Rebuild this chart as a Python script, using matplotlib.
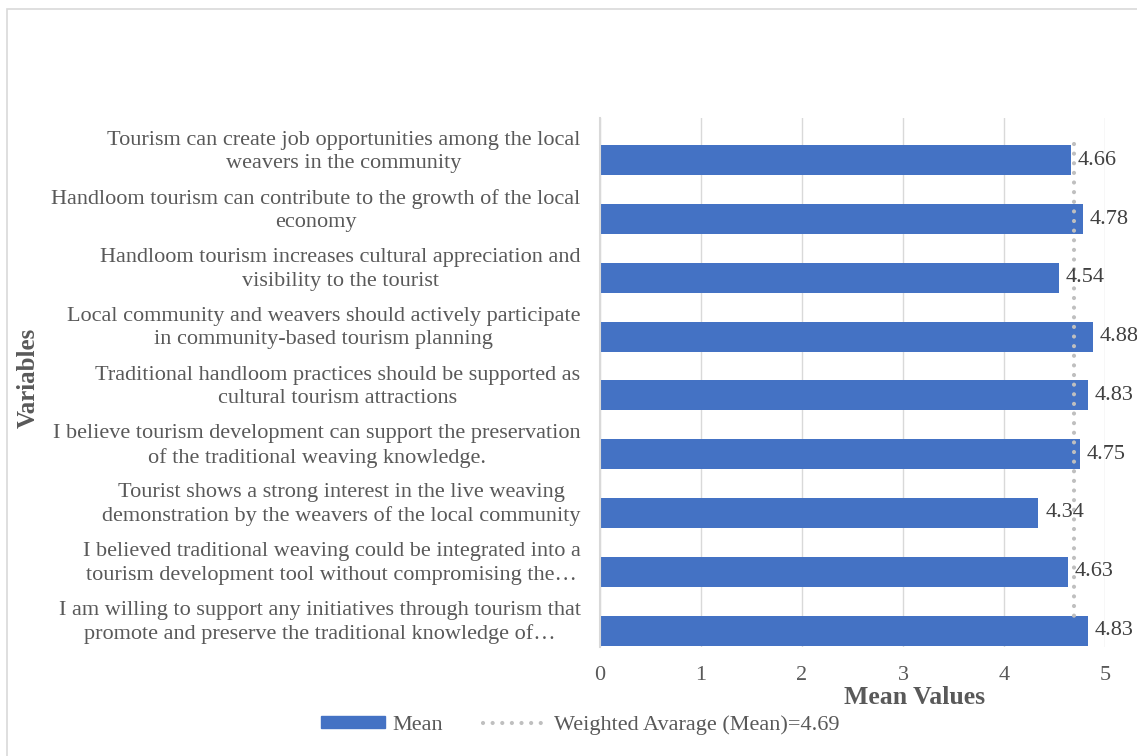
import matplotlib.pyplot as plt
from matplotlib.patches import Rectangle
from matplotlib.lines import Line2D

plt.rcParams["font.family"] = ["Liberation Serif", "DejaVu Serif"]

# Data
variables = [
    "Tourism can create job opportunities among the local\nweavers in the community",
    "Handloom tourism can contribute to the growth of the local\neconomy",
    "Handloom tourism increases cultural appreciation and\nvisibility to the tourist",
    "Local community and weavers should actively participate\nin community-based tourism planning",
    "Traditional handloom practices should be supported as\ncultural tourism attractions",
    "I believe tourism development can support the preservation\nof the traditional weaving knowledge.",
    "Tourist shows a strong interest in the live weaving\ndemonstration by the weavers of the local community",
    "I believed traditional weaving could be integrated into a\ntourism development tool without compromising the\u2026",
    "I am willing to support any initiatives through tourism that\npromote and preserve the traditional knowledge of\u2026",
]
means = [4.66, 4.78, 4.54, 4.88, 4.83, 4.75, 4.34, 4.63, 4.83]
weighted_avg = 4.69

W, H = 1137, 756
fig = plt.figure(figsize=(W / 100, H / 100), dpi=100)
ax = fig.add_axes([600 / W, 1 - 647 / H, 505 / W, (647 - 118) / H])

txt = "#595959"
dots = (0, (0.01, 2.3))
y = list(range(len(means)))
# bars sit in the lower part of each category band (second, hidden series slot)
bar_y = [yi + 0.22 for yi in y]
ax.barh(bar_y, means, height=0.51, color="#4472C4", zorder=2)
ax.set_ylim(len(means) - 0.5, -0.5)
ax.set_xlim(0, 5)

# weighted average line
ax.plot([weighted_avg, weighted_avg], [-0.05, 7.97], color="#BFBFBF",
        linestyle=dots, lw=3, dash_capstyle="round", zorder=3)

for yi, v in zip(bar_y, means):
    ax.text(v + 0.07, yi, f"{v:.2f}", va="center", ha="left",
            fontsize=16, color="#404040", zorder=4)

ax.set_yticks(y)
ax.set_yticklabels(variables, fontsize=16, color=txt, multialignment="center")
for lbl in ax.get_yticklabels():
    lbl.set_linespacing(1.3)
ax.set_xticks(range(6))
ax.tick_params(axis="x", labelsize=16, labelcolor=txt, length=0, pad=14)
ax.tick_params(axis="y", length=0, pad=14)
ax.grid(axis="x", color="#D9D9D9", lw=1, zorder=0)
for s in ["top", "right", "bottom"]:
    ax.spines[s].set_visible(False)
ax.spines["left"].set_color("#D9D9D9")
ax.spines["left"].set_linewidth(1.5)

fig.text(915 / W, 1 - 697 / H, "Mean Values", ha="center", va="center",
         fontsize=18.5, fontweight="bold", color=txt)
fig.text(28 / W, 1 - 378 / H, "Variables", ha="center", va="center",
         rotation=90, fontsize=18, fontweight="bold", color=txt)

handles = [
    Rectangle((0, 0), 1, 1, color="#4472C4"),
    Line2D([0], [0], color="#BFBFBF", linestyle=dots, lw=3,
           dash_capstyle="round"),
]
fig.legend(handles, ["Mean", "Weighted Avarage (Mean)=4.69"],
           loc="center", bbox_to_anchor=(580 / W, 1 - 725 / H), ncol=2,
           frameon=False, fontsize=16, labelcolor=txt, handlelength=2.9,
           handleheight=0.45, handletextpad=0.3, columnspacing=1.8)

# outer chart border
fig.add_artist(Rectangle((7 / W, -0.01), 1.02, 1 - 9 / H + 0.01,
                         transform=fig.transFigure, fill=False,
                         edgecolor="#D9D9D9", lw=1.2))

fig.savefig("out.png", dpi=100)
